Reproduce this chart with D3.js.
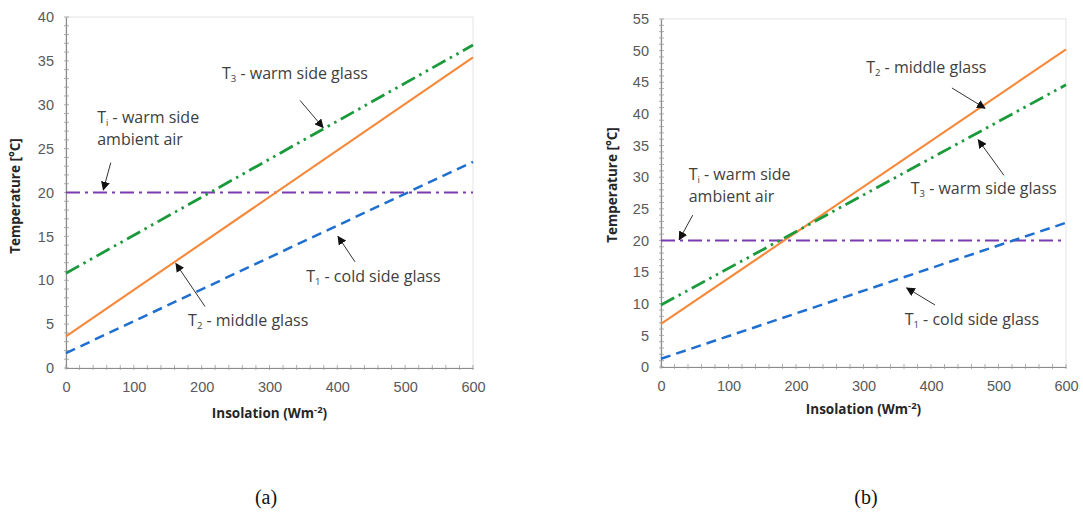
<!DOCTYPE html>
<html>
<head>
<meta charset="utf-8">
<title>Temperature vs insolation</title>
<style>
  body { margin: 0; background: #fff; }
  svg { font-family: "Open Sans", Lato, sans-serif; }
  .tick-label { font-size: 14.5px; fill: #595959; }
  .axis-title { font-size: 13.5px; font-weight: bold; fill: #262626; }
  .note { font-size: 16px; fill: #404040; }
  .caption { font-family: "Liberation Serif", serif; font-size: 20px; fill: #111; }
</style>
</head>
<body>
<svg id="chart" width="1083" height="513"></svg>
<script src="https://cdnjs.cloudflare.com/ajax/libs/d3/7.8.5/d3.min.js"></script>
<script>
// ---- data ----
var insolation = [0, 600];

// panel (a)
var a_T1 = [1.7, 23.5];   // cold side glass
var a_T2 = [3.6, 35.4];   // middle glass
var a_T3 = [10.8, 36.8];  // warm side glass
var a_Ti = [20, 20];      // warm side ambient air
var a_yTicks = [0, 5, 10, 15, 20, 25, 30, 35, 40];

// panel (b)
var b_T1 = [1.3, 22.8];
var b_T2 = [6.8, 50.2];
var b_T3 = [9.8, 44.6];
var b_Ti = [20, 20];
var b_yTicks = [0, 5, 10, 15, 20, 25, 30, 35, 40, 45, 50, 55];

var xTicks = [0, 100, 200, 300, 400, 500, 600];

// annotations in data units: [label, sub, rest, line2, textX, textY, tailX, tailY, tipX, tipY]
var a_notes = [
  ["T", "3", " - warm side glass", null, 230, 33.4, 345, 30.5, 379, 27.4],
  ["T", "i", " - warm side", "ambient air", 46, 28.4, 66, 23.4, 55, 20.3],
  ["T", "1", " - cold side glass", null, 354, 10.3, 426, 12.1, 401, 15.0],
  ["T", "2", " - middle glass", null, 180, 5.2, 205, 7.0, 162, 11.9]
];
var b_notes = [
  ["T", "2", " - middle glass", null, 304, 47.1, 431, 44.1, 480, 40.9],
  ["T", "3", " - warm side glass", null, 370, 28.0, 508, 30.3, 470, 35.9],
  ["T", "i", " - warm side", "ambient air", 41, 30.2, 47, 24.0, 27, 20.1],
  ["T", "1", " - cold side glass", null, 361, 7.3, 406, 9.8, 364, 12.5]
];

// ---- styles ----
var styles = {
  T1: { color: "#1f6fd0", dash: "10,6", width: 2.5 },
  T2: { color: "#f7883a", dash: null, width: 2.1 },
  T3: { color: "#1a9a3a", dash: "15,5,2.5,5,2.5,5", width: 2.8 },
  Ti: { color: "#7a3bb0", dash: "14,5,3,5", width: 2.1 }
};

var svg = d3.select("#chart");

svg.append("defs").append("marker")
  .attr("id", "arrow")
  .attr("viewBox", "0 0 10 10")
  .attr("refX", 9).attr("refY", 5)
  .attr("markerWidth", 9).attr("markerHeight", 9)
  .attr("markerUnits", "userSpaceOnUse")
  .attr("orient", "auto")
  .append("path")
  .attr("d", "M0,0 L10,5 L0,10 z")
  .attr("fill", "#111");

function drawPanel(p) {
  var x = d3.scaleLinear().domain([0, 600]).range([p.left, p.right]);
  var y = d3.scaleLinear().domain([0, p.yMax]).range([p.bottom, p.top]);
  var g = svg.append("g");

  // frame
  g.append("rect")
    .attr("x", p.left).attr("y", p.top)
    .attr("width", p.right - p.left).attr("height", p.bottom - p.top)
    .attr("fill", "none").attr("stroke", "#e4e4e4").attr("stroke-width", 1);

  // y axis
  var yAxis = d3.axisLeft(y).tickValues(p.yTicks).tickSize(0).tickPadding(12);
  var ya = g.append("g").attr("transform", "translate(" + p.left + ",0)").call(yAxis);
  ya.select(".domain").attr("stroke", "#8c8c8c").attr("stroke-width", 1.2);
  ya.selectAll("text").attr("class", "tick-label").attr("font-family", null).attr("font-size", null);
  // minor ticks
  var yMinor = d3.range(0, p.yMax + 0.001, 1);
  g.append("g").selectAll("line").data(yMinor).join("line")
    .attr("x1", p.left - 2).attr("x2", p.left + 3)
    .attr("y1", d => y(d)).attr("y2", d => y(d))
    .attr("stroke", "#9a9a9a").attr("stroke-width", 0.8);

  // x axis
  var xAxis = d3.axisBottom(x).tickValues(xTicks).tickSize(0).tickPadding(14);
  var xa = g.append("g").attr("transform", "translate(0," + p.bottom + ")").call(xAxis);
  xa.select(".domain").attr("stroke", "#8c8c8c").attr("stroke-width", 1.2);
  xa.selectAll("text").attr("class", "tick-label").attr("font-family", null).attr("font-size", null);
  var xMinor = d3.range(0, 601, 20);
  g.append("g").selectAll("line").data(xMinor).join("line")
    .attr("x1", d => x(d)).attr("x2", d => x(d))
    .attr("y1", p.bottom - 3).attr("y2", p.bottom + 2)
    .attr("stroke", "#9a9a9a").attr("stroke-width", 0.8);

  // axis titles
  g.append("text").attr("class", "axis-title")
    .attr("transform", "translate(" + p.yTitleX + "," + p.yTitleY + ") rotate(-90)")
    .attr("text-anchor", "middle")
    .text("Temperature [°C]");
  var xt = g.append("text").attr("class", "axis-title")
    .attr("x", (p.left + p.right) / 2).attr("y", p.bottom + p.xTitleDy)
    .attr("text-anchor", "middle");
  xt.append("tspan").text("Insolation (Wm");
  xt.append("tspan").attr("dy", -5).attr("font-size", 9.5).text("-2");
  xt.append("tspan").attr("dy", 5).text(")");

  // series
  var line = d3.line().x((d, i) => x(insolation[i])).y(d => y(d));
  p.series.forEach(function (s) {
    var st = styles[s.key];
    g.append("path")
      .attr("d", line(s.values))
      .attr("fill", "none")
      .attr("stroke", st.color)
      .attr("stroke-width", st.width)
      .attr("stroke-dasharray", st.dash);
  });

  // annotations
  p.notes.forEach(function (n) {
    g.append("line")
      .attr("x1", x(n[6])).attr("y1", y(n[7]))
      .attr("x2", x(n[8])).attr("y2", y(n[9]))
      .attr("stroke", "#333").attr("stroke-width", 1)
      .attr("marker-end", "url(#arrow)");
    var t = g.append("text").attr("class", "note")
      .attr("x", x(n[4])).attr("y", y(n[5]))
      .attr("dominant-baseline", "middle");
    t.append("tspan").text(n[0]);
    t.append("tspan").attr("dy", 4).attr("font-size", 9.5).text(n[1]);
    t.append("tspan").attr("dy", -4).text(n[2]);
    if (n[3]) {
      g.append("text").attr("class", "note")
        .attr("x", x(n[4])).attr("y", y(n[5]) + 22)
        .attr("dominant-baseline", "middle")
        .text(n[3]);
    }
  });

  svg.append("text").attr("class", "caption")
    .attr("x", p.captionX).attr("y", 504)
    .attr("text-anchor", "middle")
    .text(p.caption);
}

drawPanel({
  left: 66, right: 473, top: 17, bottom: 368, yMax: 40, yTicks: a_yTicks,
  yTitleX: 20, yTitleY: 196, xTitleDy: 50,
  series: [
    { key: "Ti", values: a_Ti },
    { key: "T1", values: a_T1 },
    { key: "T2", values: a_T2 },
    { key: "T3", values: a_T3 }
  ],
  notes: a_notes, caption: "(a)", captionX: 266
});

drawPanel({
  left: 661, right: 1066, top: 19, bottom: 367, yMax: 55, yTicks: b_yTicks,
  yTitleX: 617, yTitleY: 185, xTitleDy: 47,
  series: [
    { key: "Ti", values: b_Ti },
    { key: "T1", values: b_T1 },
    { key: "T2", values: b_T2 },
    { key: "T3", values: b_T3 }
  ],
  notes: b_notes, caption: "(b)", captionX: 866
});
</script>
</body>
</html>
